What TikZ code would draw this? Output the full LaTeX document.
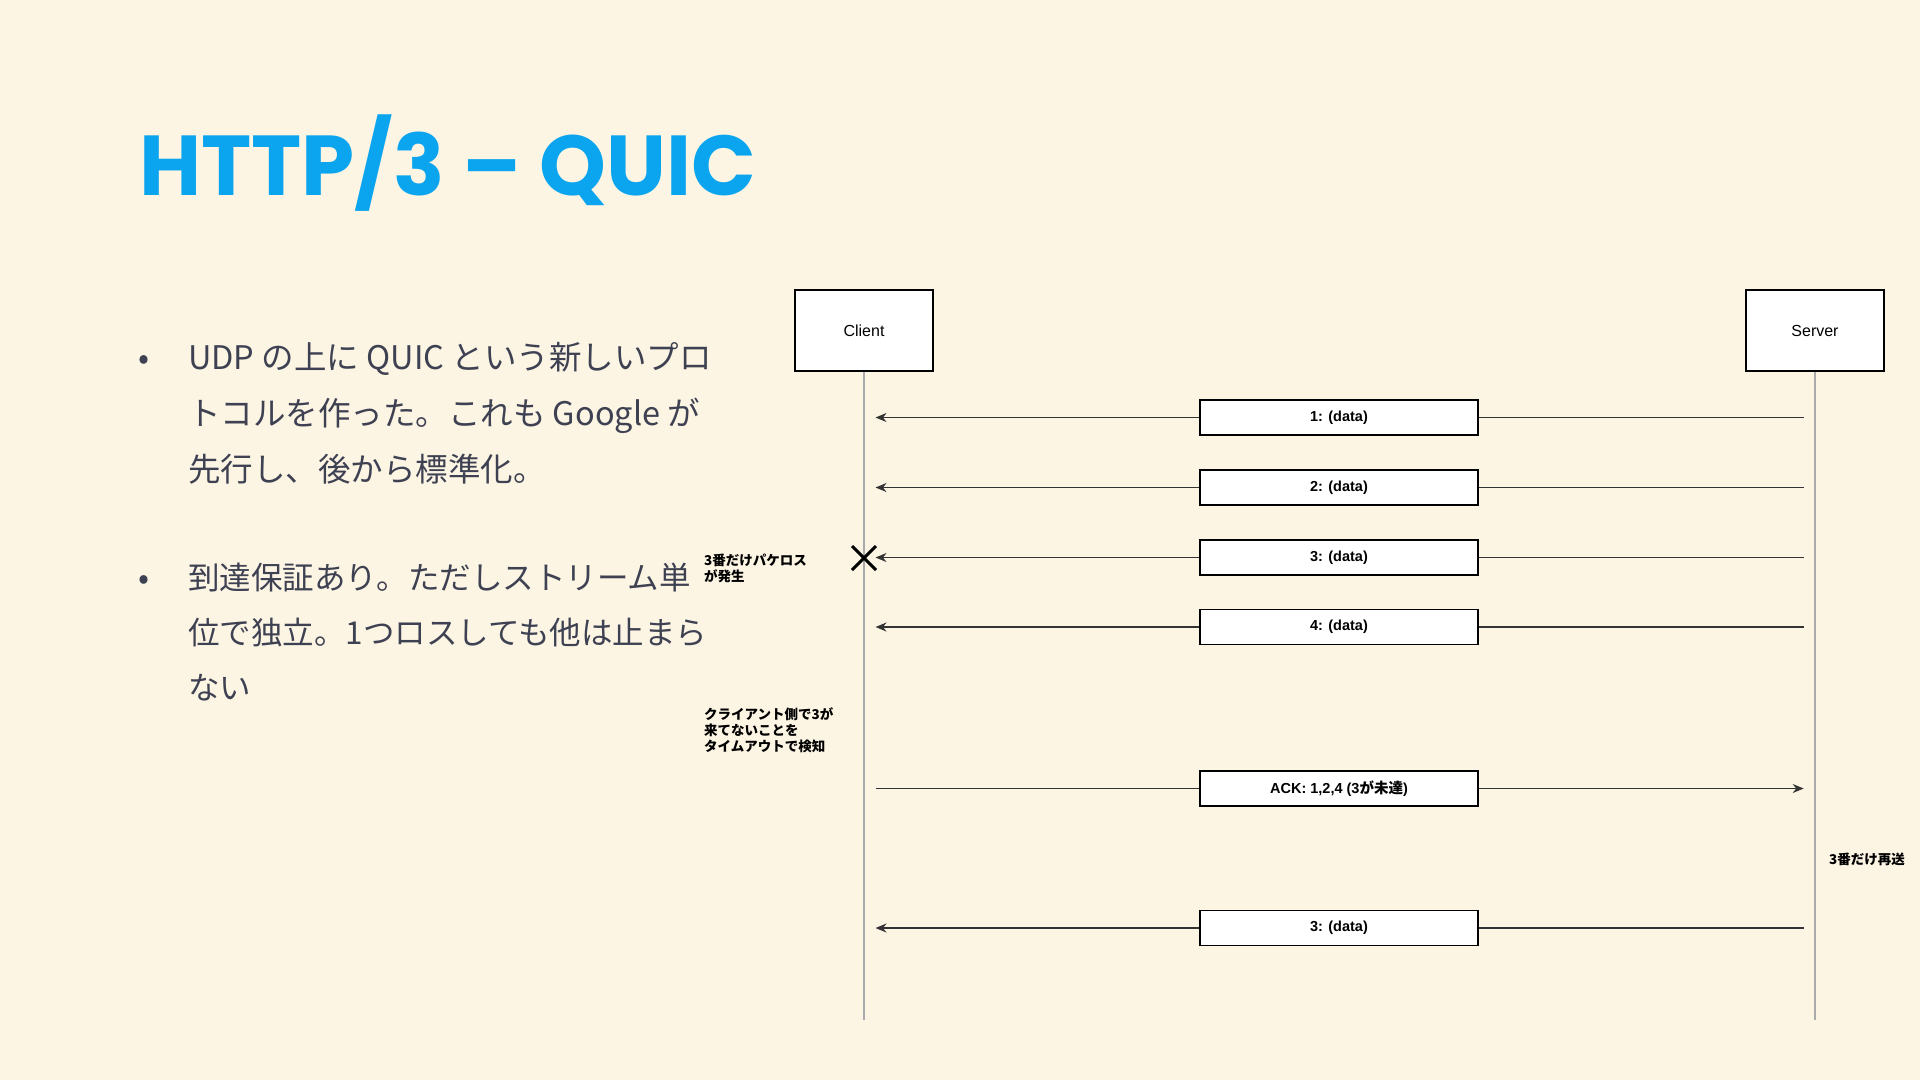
\documentclass[tikz,border=0pt]{standalone}
\usepackage{fontspec}
\setmainfont{Liberation Sans}
\newfontfamily\cjk{Noto Sans CJK JP}
\newfontfamily\titlefont{Poppins}
\usetikzlibrary{arrows.meta,shapes.misc}

\definecolor{paper}{RGB}{253,245,228}
\definecolor{quicblue}{RGB}{10,165,238}
\definecolor{bodytext}{RGB}{62,65,82}
\definecolor{wire}{RGB}{51,51,51}
\definecolor{lifegray}{RGB}{170,170,170}

\tikzstyle{actor}=[draw=black,fill=white,line width=1.4pt,
    minimum width=138pt,minimum height=81pt,inner sep=0pt,
    font=\fontsize{16}{19}\selectfont]
\tikzstyle{lifeline}=[draw=lifegray,line width=1.5pt]
\tikzstyle{packet}=[draw=black,fill=white,line width=1.4pt,
    minimum width=278pt,minimum height=35pt,inner sep=0pt,
    font=\bfseries\fontsize{14.5}{17}\selectfont]
\tikzstyle{wireline}=[draw=wire,line width=1.4pt]
\tikzstyle{note}=[align=left,anchor=west,inner sep=0pt,
    font=\cjk\bfseries\fontsize{13.5}{16}\selectfont]
\tikzstyle{bullettext}=[anchor=north west,align=left,inner sep=0pt,
    text=bodytext,font=\cjk\fontsize{32.5}{56}\selectfont]
\newcommand{\tocl}[3]{% server -> client
    \node[packet] at (1339,#1) (#2) {#3};
    \coordinate (#2c) at (875.5,#1);
    \coordinate (#2s) at (1803.7,#1);
    \draw[wireline] (#2s) -- (#2.east);
    \draw[wireline,-{Stealth[length=11pt,width=9pt]}] (#2.west) -- (#2c);
}
\newcommand{\tosv}[3]{% client -> server
    \node[packet] at (1339,#1) (#2) {#3};
    \coordinate (#2c) at (875.5,#1);
    \coordinate (#2s) at (1803.7,#1);
    \draw[wireline] (#2c) -- (#2.west);
    \draw[wireline,-{Stealth[length=11pt,width=9pt]}] (#2.east) -- (#2s);
}

\begin{document}
\begin{tikzpicture}[x=1pt,y=-1pt]
    \useasboundingbox[fill=paper] (0,0) rectangle (1920,1080);
    %
    \node[anchor=base west,text=quicblue,inner sep=0pt,
        font=\titlefont\bfseries\fontsize{85}{95}\selectfont]
        (title) at (139,195) {HTTP/3 – QUIC};
    %
    \node[anchor=base,text=bodytext,font=\cjk\fontsize{32.5}{56}\selectfont]
        (dota) at (144,369) {•};
    \node[bullettext] (itema) at (188,342)
        {UDP の上に QUIC という新しいプロ\\トコルを作った。これも Google が\\先行し、後から標準化。};
    \node[anchor=base,text=bodytext,font=\cjk\fontsize{32.5}{56}\selectfont]
        (dotb) at (144,589) {•};
    \node[bullettext,font=\cjk\fontsize{31.5}{55}\selectfont] (itemb) at (188,563)
        {到達保証あり。ただしストリーム単\\位で独立。1つロスしても他は止まら\\ない};
    %
    \node[actor] (client) at (864,330.5) {Client};
    \node[actor] (server) at (1815,330.5) {Server};
    \coordinate (clientend) at (864,1020);
    \coordinate (serverend) at (1815,1020);
    \draw[lifeline] (client) -- (clientend);
    \draw[lifeline] (server) -- (serverend);
    %
    \tocl{417.5}{pa}{1: (data)}
    \tocl{487.5}{pb}{2: (data)}
    \tocl{557.5}{pc}{3: (data)}
    \tocl{627}{pd}{4: (data)}
    \tosv{788.5}{ack}{ACK: 1,2,4 (3{\cjk\bfseries が未達})}
    \tocl{928}{pe}{3: (data)}
    %
    \node[cross out,draw=black,line width=3pt,minimum size=21pt,inner sep=0pt]
        (lost) at (864,558) {};
    \node[note] (lossnote) at (704,568) {3番だけパケロス\\が発生};
    \node[note] (timeoutnote) at (704,730) {クライアント側で3が\\来てないことを\\タイムアウトで検知};
    \node[note] (resendnote) at (1829,859) {3番だけ再送};
\end{tikzpicture}
\end{document}
